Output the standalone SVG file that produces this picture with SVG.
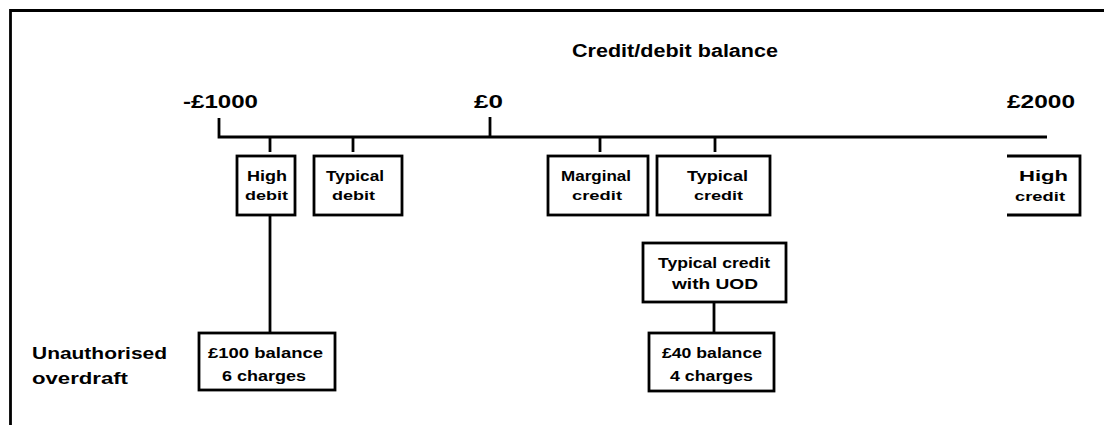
<svg xmlns="http://www.w3.org/2000/svg" width="1104" height="425" viewBox="0 0 1104 425">
<style>
.t{font-family:"Liberation Sans",Arial,sans-serif;font-weight:bold;fill:#000}
.l1{font-size:15px}
.l2{font-size:13px}
.ax{font-size:19px}
.box{fill:#fff;stroke:#000;stroke-width:2.8}
.ln{stroke:#000;stroke-width:2.8;fill:none}
</style>
<rect width="1104" height="425" fill="#fff"/>
<path d="M10.5,425 V10.5 H1104" class="ln" stroke-width="3"/>
<text class="t" x="572" y="57" font-size="18" textLength="206" lengthAdjust="spacingAndGlyphs">Credit/debit balance</text>
<text class="t ax" x="183" y="108" textLength="75" lengthAdjust="spacingAndGlyphs">-£1000</text>
<text class="t ax" x="474" y="108" textLength="29" lengthAdjust="spacingAndGlyphs">£0</text>
<text class="t ax" x="1007" y="108" textLength="68" lengthAdjust="spacingAndGlyphs">£2000</text>
<text class="t" font-size="17" x="32" y="359" textLength="135" lengthAdjust="spacingAndGlyphs">Unauthorised</text>
<text class="t" font-size="17" x="32" y="384" textLength="96" lengthAdjust="spacingAndGlyphs">overdraft</text>
<g id="connectors">
<path class="ln" d="M219,118 V137 H1047" />
<line class="ln" x1="490" y1="117" x2="490" y2="137"/>
<line class="ln" x1="270" y1="138" x2="270" y2="152"/>
<line class="ln" x1="353" y1="138" x2="353" y2="152"/>
<line class="ln" x1="600" y1="138" x2="600" y2="152"/>
<line class="ln" x1="715" y1="138" x2="715" y2="152"/>
<line class="ln" x1="270" y1="216" x2="270" y2="333"/>
<line class="ln" x1="714" y1="302" x2="714" y2="333"/>
</g>
<g id="high-debit">
<rect class="box" x="237" y="156" width="58" height="59"/>
<text class="t l1" x="247" y="181" textLength="40" lengthAdjust="spacingAndGlyphs">High</text>
<text class="t l2" x="245" y="200" textLength="43" lengthAdjust="spacingAndGlyphs">debit</text>
</g>
<g id="typical-debit">
<rect class="box" x="314" y="156" width="88" height="59"/>
<text class="t l1" x="326" y="181" textLength="58" lengthAdjust="spacingAndGlyphs">Typical</text>
<text class="t l2" x="332" y="200" textLength="43" lengthAdjust="spacingAndGlyphs">debit</text>
</g>
<g id="marginal-credit">
<rect class="box" x="548" y="156" width="100" height="59"/>
<text class="t l1" x="561" y="181" textLength="70" lengthAdjust="spacingAndGlyphs">Marginal</text>
<text class="t l2" x="572" y="200" textLength="50" lengthAdjust="spacingAndGlyphs">credit</text>
</g>
<g id="typical-credit">
<rect class="box" x="657" y="156" width="113" height="59"/>
<text class="t l1" x="687" y="181" textLength="61" lengthAdjust="spacingAndGlyphs">Typical</text>
<text class="t l2" x="694" y="200" textLength="49" lengthAdjust="spacingAndGlyphs">credit</text>
</g>
<g id="high-credit">
<path class="ln" d="M1007,156 H1080 V215 H1007"/>
<text class="t l1" x="1019" y="181" textLength="49" lengthAdjust="spacingAndGlyphs">High</text>
<text class="t l2" x="1015" y="201" textLength="50" lengthAdjust="spacingAndGlyphs">credit</text>
</g>
<g id="typical-credit-uod">
<rect class="box" x="643" y="243" width="143" height="59"/>
<text class="t l1" x="658" y="268" textLength="112" lengthAdjust="spacingAndGlyphs">Typical credit</text>
<text class="t l1" x="672" y="289" textLength="86" lengthAdjust="spacingAndGlyphs">with UOD</text>
</g>
<g id="balance-40">
<rect class="box" x="649" y="333" width="125" height="58"/>
<text class="t l1" x="662" y="358" textLength="100" lengthAdjust="spacingAndGlyphs">£40 balance</text>
<text class="t l1" x="670" y="381" textLength="83" lengthAdjust="spacingAndGlyphs">4 charges</text>
</g>
<g id="balance-100">
<rect class="box" x="199" y="333" width="136" height="57"/>
<text class="t l1" x="208" y="358" textLength="115" lengthAdjust="spacingAndGlyphs">£100 balance</text>
<text class="t l1" x="222" y="381" textLength="84" lengthAdjust="spacingAndGlyphs">6 charges</text>
</g>
</svg>
